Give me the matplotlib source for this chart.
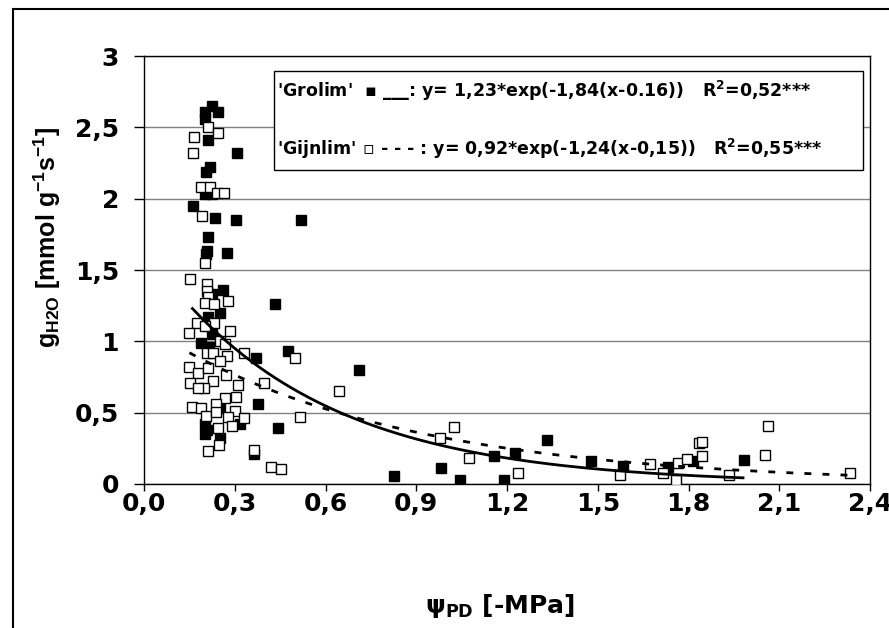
import numpy as np
import matplotlib.pyplot as plt
from matplotlib.patches import Rectangle

plt.rcParams['font.family'] = ['DejaVu Sans']
plt.rcParams['font.weight'] = 'bold'
plt.rcParams['mathtext.fontset'] = 'custom'
plt.rcParams['mathtext.rm'] = 'DejaVu Sans:bold'
plt.rcParams['mathtext.it'] = 'DejaVu Sans:bold'
plt.rcParams['mathtext.bf'] = 'DejaVu Sans:bold'
plt.rcParams['mathtext.sf'] = 'Liberation Sans:bold'

# 'Grolim' (filled squares)
grolim_x = [0.225, 0.245, 0.20, 0.20, 0.21, 0.309, 0.218, 0.205, 0.20, 0.224,
            0.163, 0.235, 0.303, 0.52, 0.21, 0.207, 0.205, 0.275, 0.262, 0.224,
            0.433, 0.251, 0.213, 0.224, 0.19, 0.215, 0.369, 0.477, 0.711, 0.376,
            0.251, 0.318, 0.202, 0.207, 0.20, 0.442, 0.251, 0.365, 0.827, 0.982,
            1.045, 1.19, 1.156, 1.227, 1.332, 1.478, 1.583, 1.731, 1.815, 1.982]
grolim_y = [2.65, 2.61, 2.61, 2.56, 2.41, 2.32, 2.22, 2.19, 2.03, 2.03,
            1.95, 1.865, 1.85, 1.85, 1.73, 1.63, 1.61, 1.62, 1.36, 1.33,
            1.265, 1.20, 1.17, 1.05, 0.99, 0.96, 0.88, 0.93, 0.80, 0.56,
            0.53, 0.42, 0.42, 0.38, 0.35, 0.39, 0.325, 0.21, 0.056, 0.11,
            0.028, 0.028, 0.195, 0.214, 0.31, 0.16, 0.126, 0.116, 0.16, 0.167]

# 'Gijnlim' (open squares)
gijnlim_x = [0.21, 0.246, 0.165, 0.163, 0.19, 0.218, 0.24, 0.266, 0.193, 0.20,
             0.152, 0.207, 0.207, 0.21, 0.279, 0.202, 0.232, 0.176, 0.232, 0.202,
             0.15, 0.284, 0.251, 0.268, 0.332, 0.50, 0.207, 0.227, 0.274, 0.251,
             0.15, 0.18, 0.213, 0.271, 0.227, 0.152, 0.198, 0.18, 0.31, 0.397,
             0.646, 0.268, 0.303, 0.238, 0.16, 0.19, 0.204, 0.238, 0.301, 0.332,
             0.514, 0.276, 0.246, 0.292, 0.249, 0.212, 0.365, 0.42, 0.452, 0.977,
             1.026, 1.073, 1.235, 1.575, 1.674, 1.715, 1.76, 1.765, 1.795, 1.834,
             1.845, 1.845, 1.935, 2.052, 2.062, 2.333]
gijnlim_y = [2.50, 2.46, 2.43, 2.32, 2.08, 2.08, 2.04, 2.04, 1.88, 1.55,
             1.44, 1.40, 1.35, 1.31, 1.28, 1.27, 1.26, 1.13, 1.13, 1.105,
             1.06, 1.075, 1.0, 0.98, 0.92, 0.88, 0.92, 0.92, 0.90, 0.865,
             0.82, 0.78, 0.81, 0.765, 0.725, 0.71, 0.675, 0.675, 0.695, 0.71,
             0.65, 0.605, 0.61, 0.56, 0.54, 0.53, 0.48, 0.505, 0.51, 0.465,
             0.47, 0.47, 0.39, 0.41, 0.27, 0.23, 0.237, 0.116, 0.105, 0.325,
             0.40, 0.18, 0.075, 0.063, 0.14, 0.08, 0.028, 0.15, 0.174, 0.284,
             0.295, 0.195, 0.063, 0.202, 0.405, 0.08]

# fitted curves as given in the chart: y = a*exp(-b(x-x0)), drawn over [lo, hi]
grolim_fit = (1.23, 1.84, 0.16)
grolim_range = (0.16, 1.98)
gijnlim_fit = (0.92, 1.24, 0.15)
gijnlim_range = (0.15, 2.33)

x_ticks = [0.0, 0.3, 0.6, 0.9, 1.2, 1.5, 1.8, 2.1, 2.4]
x_labels = ['0,0', '0,3', '0,6', '0,9', '1,2', '1,5', '1,8', '2,1', '2,4']
y_ticks = [0, 0.5, 1, 1.5, 2, 2.5, 3]
y_labels = ['0', '0,5', '1', '1,5', '2', '2,5', '3']

fig = plt.figure(figsize=(8.89, 6.28), dpi=100)
ax = fig.add_axes([0.162, 0.2293, 0.8167, 0.6815])

ax.plot(grolim_x, grolim_y, 's', ms=6.5, mfc='black', mec='black', mew=1, zorder=3)
ax.plot(gijnlim_x, gijnlim_y, 's', ms=6.5, mfc='white', mec='black', mew=1, zorder=4)

a, b, x0 = grolim_fit
xs = np.linspace(grolim_range[0], grolim_range[1], 200)
ax.plot(xs, a * np.exp(-b * (xs - x0)), color='black', lw=2, zorder=5)

a, b, x0 = gijnlim_fit
xs = np.linspace(gijnlim_range[0], gijnlim_range[1], 200)
ax.plot(xs, a * np.exp(-b * (xs - x0)), color='black', lw=2, dashes=(2.5, 4), zorder=5)

ax.set_xlim(0, 2.4)
ax.set_ylim(0, 3)
ax.set_xticks(x_ticks)
ax.set_xticklabels(x_labels)
ax.set_yticks(y_ticks)
ax.set_yticklabels(y_labels)
ax.yaxis.grid(True, color='#808080', lw=1)
ax.set_axisbelow(True)
ax.tick_params(axis='y', direction='out', length=7, width=1, pad=11, labelsize=18)
ax.tick_params(axis='x', direction='out', length=5, width=1, pad=1, labelsize=18)
for s in ax.spines.values():
    s.set_color('black')
    s.set_linewidth(1)

# legend box with the fit equations
ax.add_patch(Rectangle((0.179, 0.734), 0.811, 0.231, transform=ax.transAxes,
                       fc='white', ec='black', lw=1, zorder=6))
ax.text(0.183, 0.904, "'Grolim'  \u25aa ___: y= 1,23*exp(-1,84(x-0.16))   R$^2$=0,52***",
        transform=ax.transAxes, fontsize=12.5, va='baseline', zorder=7)
ax.text(0.183, 0.769, "'Gijnlim' \u25ab - - - : y= 0,92*exp(-1,24(x-0,15))   R$^2$=0,55***",
        transform=ax.transAxes, fontsize=12.5, va='baseline', zorder=7)

fig.text(47 / 889, 1 - 238 / 628,
         r'g$_{\mathsf{H2O}}$ [mmol g$^{\mathsf{-1}}$s$^{\mathsf{-1}}$]',
         family='Liberation Sans', rotation=90, ha='center', va='center', fontsize=18)
fig.text(500 / 889, 1 - 606 / 628, '\u03c8$_{PD}$ [-MPa]',
         ha='center', va='center', fontsize=18)

# outer chart frame (only left and top edges fall inside the image)
fig.add_artist(Rectangle((13 / 889, -0.1), 1.2, 1.1 - 9 / 628,
                         transform=fig.transFigure, fill=False, ec='black', lw=1.5))

fig.savefig('out.png', dpi=100)
